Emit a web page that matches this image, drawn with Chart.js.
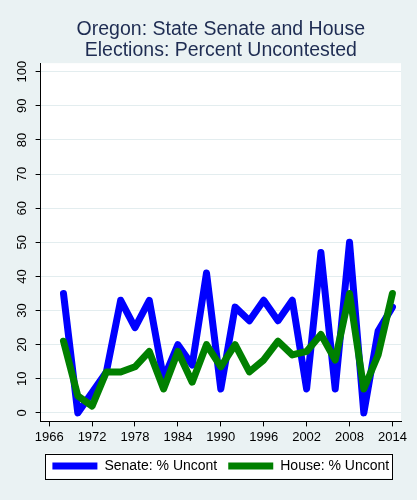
<!DOCTYPE html>
<html>
<head>
<meta charset="utf-8">
<script src="https://cdn.jsdelivr.net/npm/chart.js@4/dist/chart.umd.min.js"></script>
<style>
  html, body { margin: 0; padding: 0; background: #eaf2f3; }
  #wrap { width: 417px; height: 500px; }
</style>
</head>
<body>
<div id="wrap"><canvas id="chart"></canvas></div>
<script>
'use strict'

let years = [1968, 1970, 1972, 1974, 1976, 1978, 1980, 1982, 1984, 1986, 1988, 1990,
             1992, 1994, 1996, 1998, 2000, 2002, 2004, 2006, 2008, 2010, 2012, 2014];
let senateUncont = [35, 0, 6, 12, 33, 25, 33, 10, 20, 14, 41, 7,
                    31, 27, 33, 27, 33, 7, 47, 7, 50, 0, 24, 31];
let houseUncont = [21, 5, 2, 12, 12, 13.5, 18, 7, 18, 9, 20, 13.5,
                   20, 12, 15.5, 21, 17, 18, 23, 15.5, 35, 7, 17, 35];
let xTicks = [1966, 1972, 1978, 1984, 1990, 1996, 2002, 2008, 2014];
let yTicks = [0, 10, 20, 30, 40, 50, 60, 70, 80, 90, 100];

function toPoints(values) {
    return years.map((yr, i) => ({ x: yr, y: values[i] }));
}

// white plot region + boxed legend, like Stata's s2color scheme
const backgrounds = {
    id: 'backgrounds',
    beforeDraw(chart) {
        let ctx = chart.ctx;
        let area = chart.chartArea;
        ctx.save();
        ctx.fillStyle = '#ffffff';
        ctx.fillRect(area.left, area.top, area.right - area.left, area.bottom - area.top);
        let boxes = chart.legend.legendHitBoxes;
        if (boxes && boxes.length) {
            let left = Math.min(...boxes.map(b => b.left)) - 7;
            let right = Math.max(...boxes.map(b => b.left + b.width)) + 3;
            let top = Math.min(...boxes.map(b => b.top)) - 5.5;
            let bottom = Math.max(...boxes.map(b => b.top + b.height)) + 5.5;
            ctx.fillRect(left, top, right - left, bottom - top);
            ctx.strokeStyle = '#000000';
            ctx.lineWidth = 1;
            ctx.strokeRect(Math.round(left) + 0.5, Math.round(top) + 0.5, Math.round(right - left), Math.round(bottom - top));
        }
        ctx.restore();
    }
};

const data = {
    datasets: [
        {
            label: 'Senate: % Uncont',
            data: toPoints(senateUncont),
            borderColor: '#0000ff',
            backgroundColor: '#0000ff',
            borderWidth: 7,
            borderJoinStyle: 'round',
            borderCapStyle: 'round',
            pointRadius: 0,
            order: 2
        },
        {
            label: 'House: % Uncont',
            data: toPoints(houseUncont),
            borderColor: '#008000',
            backgroundColor: '#008000',
            borderWidth: 7,
            borderJoinStyle: 'round',
            borderCapStyle: 'round',
            pointRadius: 0,
            order: 1
        }
    ]
};

const config = {
    type: 'line',
    data: data,
    plugins: [backgrounds],
    options: {
        responsive: true,
        maintainAspectRatio: false,
        animation: false,
        layout: { padding: { left: 16, right: 16, top: 0, bottom: 17 } },
        plugins: {
            tooltip: { enabled: false },
            title: {
                display: true,
                fullSize: false,
                text: ['Oregon: State Senate and House', 'Elections: Percent Uncontested'],
                color: '#1e2c52',
                font: { family: 'Liberation Sans, Arial', size: 19.5, weight: 'normal', lineHeight: 1.03 },
                padding: { top: 20, bottom: 3 }
            },
            legend: {
                position: 'bottom',
                fullSize: false,
                labels: {
                    color: '#000000',
                    font: { family: 'Liberation Sans, Arial', size: 14 },
                    usePointStyle: true,
                    pointStyle: 'line',
                    pointStyleWidth: 45,
                    padding: 11,
                    sort: (a, b) => a.datasetIndex - b.datasetIndex
                }
            }
        },
        scales: {
            x: {
                type: 'linear',
                min: 1964.8,
                max: 2015.2,
                afterBuildTicks: scale => { scale.ticks = xTicks.map(v => ({ value: v })); },
                ticks: {
                    color: '#000000',
                    font: { family: 'Liberation Sans, Arial', size: 13 },
                    maxRotation: 0,
                    padding: 3,
                    callback: v => String(v)
                },
                grid: { drawOnChartArea: false, tickLength: 5, tickColor: '#000000' },
                border: { color: '#000000', width: 1 }
            },
            y: {
                min: -2.5,
                max: 102.5,
                afterBuildTicks: scale => { scale.ticks = yTicks.map(v => ({ value: v })); },
                ticks: {
                    color: '#000000',
                    font: { family: 'Liberation Sans, Arial', size: 13 },
                    minRotation: 90,
                    maxRotation: 90,
                    crossAlign: 'center',
                    padding: 2,
                    callback: v => String(v)
                },
                grid: { color: '#e3edef', lineWidth: 1, tickLength: 5, tickColor: '#000000' },
                border: { color: '#000000', width: 1 }
            }
        }
    }
};

new Chart(document.getElementById('chart'), config);
</script>
</body>
</html>
